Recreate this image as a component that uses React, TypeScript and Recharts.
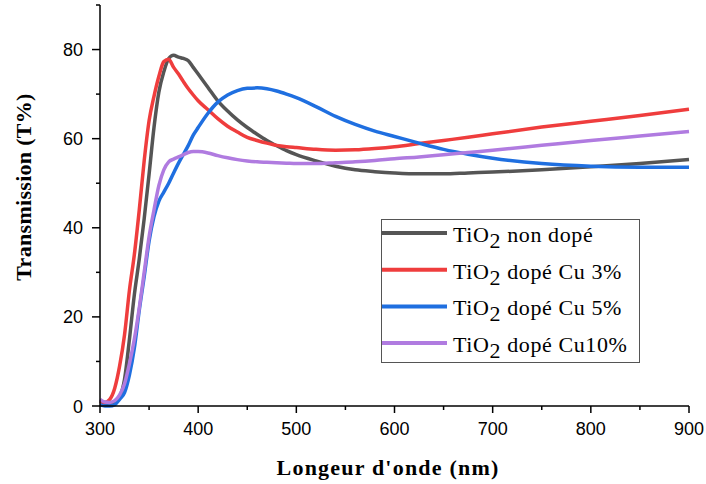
import React from 'react';
import { LineChart, Line, XAxis, YAxis, Legend, Label } from 'recharts';

// wavelength (nm)
const wavelengths = [
  300, 305, 310, 315, 320, 325, 330, 335, 340, 345, 350, 355, 360, 365, 370, 375, 380, 385, 390, 395,
  400, 410, 420, 430, 440, 450, 460, 470, 480, 490, 500, 520, 540, 560, 580, 600, 625, 650, 675, 700,
  750, 800, 850, 900,
];

// transmission (%)
const nonDope = [
  1.2, 0.6, 0.4, 0.8, 2, 6, 15, 25, 33, 42, 52, 62.5, 70.5, 75, 78, 78.7, 78.3, 78, 77.5, 76,
  74.5, 71.5, 68.5, 66.2, 64.2, 62.5, 61, 59.6, 58.4, 57.3, 56.4, 55, 53.8, 53, 52.6, 52.3, 52.1, 52.1, 52.3, 52.5,
  53, 53.7, 54.4, 55.3,
];
const cu3 = [
  1, 0.8, 1.5, 4, 9, 16, 26, 34, 44, 55, 64, 69.5, 74, 77.3, 77.8, 76, 74.5, 72.8, 71.2, 69.8,
  68.5, 66.5, 64.5, 62.8, 61.5, 60.3, 59.6, 59, 58.5, 58.2, 58, 57.6, 57.4, 57.5, 57.8, 58.2, 58.9, 59.6, 60.3, 61.1,
  62.6, 63.9, 65.2, 66.6,
];
const cu5 = [
  0.3, 0, 0, 0.3, 1.5, 3, 7, 13, 21.5, 29, 37, 42.5, 46, 48, 50, 52.3, 54.5, 56.5, 58.5, 60.8,
  62.5, 65.7, 68.2, 69.8, 70.8, 71.3, 71.4, 71.2, 70.7, 70, 69.2, 67.2, 65, 63.2, 61.7, 60.5, 59, 57.6, 56.5, 55.6,
  54.4, 53.8, 53.6, 53.6,
];
const cu10 = [
  1.5, 0.9, 0.8, 1.2, 2.5, 5, 9.5, 15, 22, 30, 38, 44, 49.5, 53, 54.8, 55.4, 55.9, 56.4, 56.9, 57.1,
  57.1, 56.8, 56.2, 55.7, 55.3, 55, 54.8, 54.7, 54.6, 54.5, 54.4, 54.4, 54.6, 54.8, 55.1, 55.5, 55.9, 56.4, 56.9, 57.4,
  58.5, 59.6, 60.6, 61.6,
];

const xTicks = [300, 350, 400, 450, 500, 550, 600, 650, 700, 750, 800, 850, 900];
const yTicks = [0, 10, 20, 30, 40, 50, 60, 70, 80, 90];

const series = [
  { key: 'nonDope', label: 'non dopé', color: '#555555' },
  { key: 'cu3', label: 'dopé Cu 3%', color: '#ef3d3d' },
  { key: 'cu5', label: 'dopé Cu 5%', color: '#1f6fe0' },
  { key: 'cu10', label: 'dopé Cu10%', color: '#b07be0' },
];

const data = wavelengths.map((w, i) => ({
  w,
  nonDope: nonDope[i],
  cu3: cu3[i],
  cu5: cu5[i],
  cu10: cu10[i],
}));

const SERIF = "'Liberation Serif', 'Times New Roman', serif";
const tickFont = { fontFamily: "'Liberation Sans', Arial, sans-serif", fontSize: 18, fill: '#000' };

const XTick = ({ x, y, payload }: any) => {
  const major = payload.value % 100 === 0;
  return (
    <g>
      <line x1={x} x2={x} y1={y} y2={y + (major ? 7 : 4)} stroke="#000" strokeWidth={1.5} />
      {major && (
        <text x={x} y={y + 29} textAnchor="middle" {...tickFont}>
          {payload.value}
        </text>
      )}
    </g>
  );
};

const YTick = ({ x, y, payload }: any) => {
  const major = payload.value % 20 === 0;
  return (
    <g>
      <line x1={x - (major ? 8 : 4)} x2={x} y1={y} y2={y} stroke="#000" strokeWidth={1.5} />
      {major && (
        <text x={x - 17} y={y + 6.5} textAnchor="end" {...tickFont}>
          {payload.value}
        </text>
      )}
    </g>
  );
};

const titleFont = { fontFamily: SERIF, fontWeight: 'bold' as const, fontSize: 22, fill: '#000' };

const XTitle = () => (
  <text x={388} y={475} textAnchor="middle" letterSpacing={1.2} {...titleFont}>
    Longeur d'onde (nm)
  </text>
);

const YTitle = () => (
  <text transform="translate(31, 187) rotate(-90)" textAnchor="middle" letterSpacing={0.3} {...titleFont}>
    Transmission (T%)
  </text>
);

const LegendBox = () => (
  <svg width={260} height={145} style={{ display: 'block' }}>
    <rect x={0.5} y={0.5} width={258} height={143} fill="#fff" stroke="#555" strokeWidth={1} />
    {series.map((s, i) => {
      const cy = 14 + i * 36.7;
      return (
        <g key={s.key}>
          <line x1={1} x2={66} y1={cy} y2={cy} stroke={s.color} strokeWidth={4} />
          <text x={72} y={cy + 9} fontFamily={SERIF} fontSize={22} letterSpacing={0.6} fill="#000">
            TiO<tspan dy={6}>2</tspan>
            <tspan dy={-6}> {s.label}</tspan>
          </text>
        </g>
      );
    })}
  </svg>
);

export default function App() {
  return (
    <div style={{ position: 'absolute', left: 0, top: 0, width: 706, height: 484, background: '#fff' }}>
      <LineChart width={706} height={484} data={data} margin={{ top: 5, right: 17, bottom: 48, left: 10 }}>
        <XAxis
          dataKey="w"
          type="number"
          domain={[300, 900]}
          ticks={xTicks}
          interval={0}
          tickSize={0}
          tickMargin={0}
          tickLine={false}
          tick={<XTick />}
          axisLine={{ stroke: '#000', strokeWidth: 1.5 }}
          height={30}
        >
          <Label content={<XTitle />} />
        </XAxis>
        <YAxis
          type="number"
          domain={[0, 90]}
          ticks={yTicks}
          interval={0}
          tickSize={0}
          tickMargin={0}
          tickLine={false}
          tick={<YTick />}
          axisLine={{ stroke: '#000', strokeWidth: 1.5 }}
          width={90}
        >
          <Label content={<YTitle />} />
        </YAxis>
        <Legend
          layout="horizontal"
          verticalAlign="middle"
          align="center"
          content={<LegendBox />}
          wrapperStyle={{ left: 381, top: 219, width: 260, height: 145 }}
        />
        {series.map((s) => (
          <Line
            key={s.key}
            type="monotone"
            dataKey={s.key}
            name={s.label}
            stroke={s.color}
            strokeWidth={3.5}
            dot={false}
            activeDot={false}
            isAnimationActive={false}
          />
        ))}
      </LineChart>
    </div>
  );
}
